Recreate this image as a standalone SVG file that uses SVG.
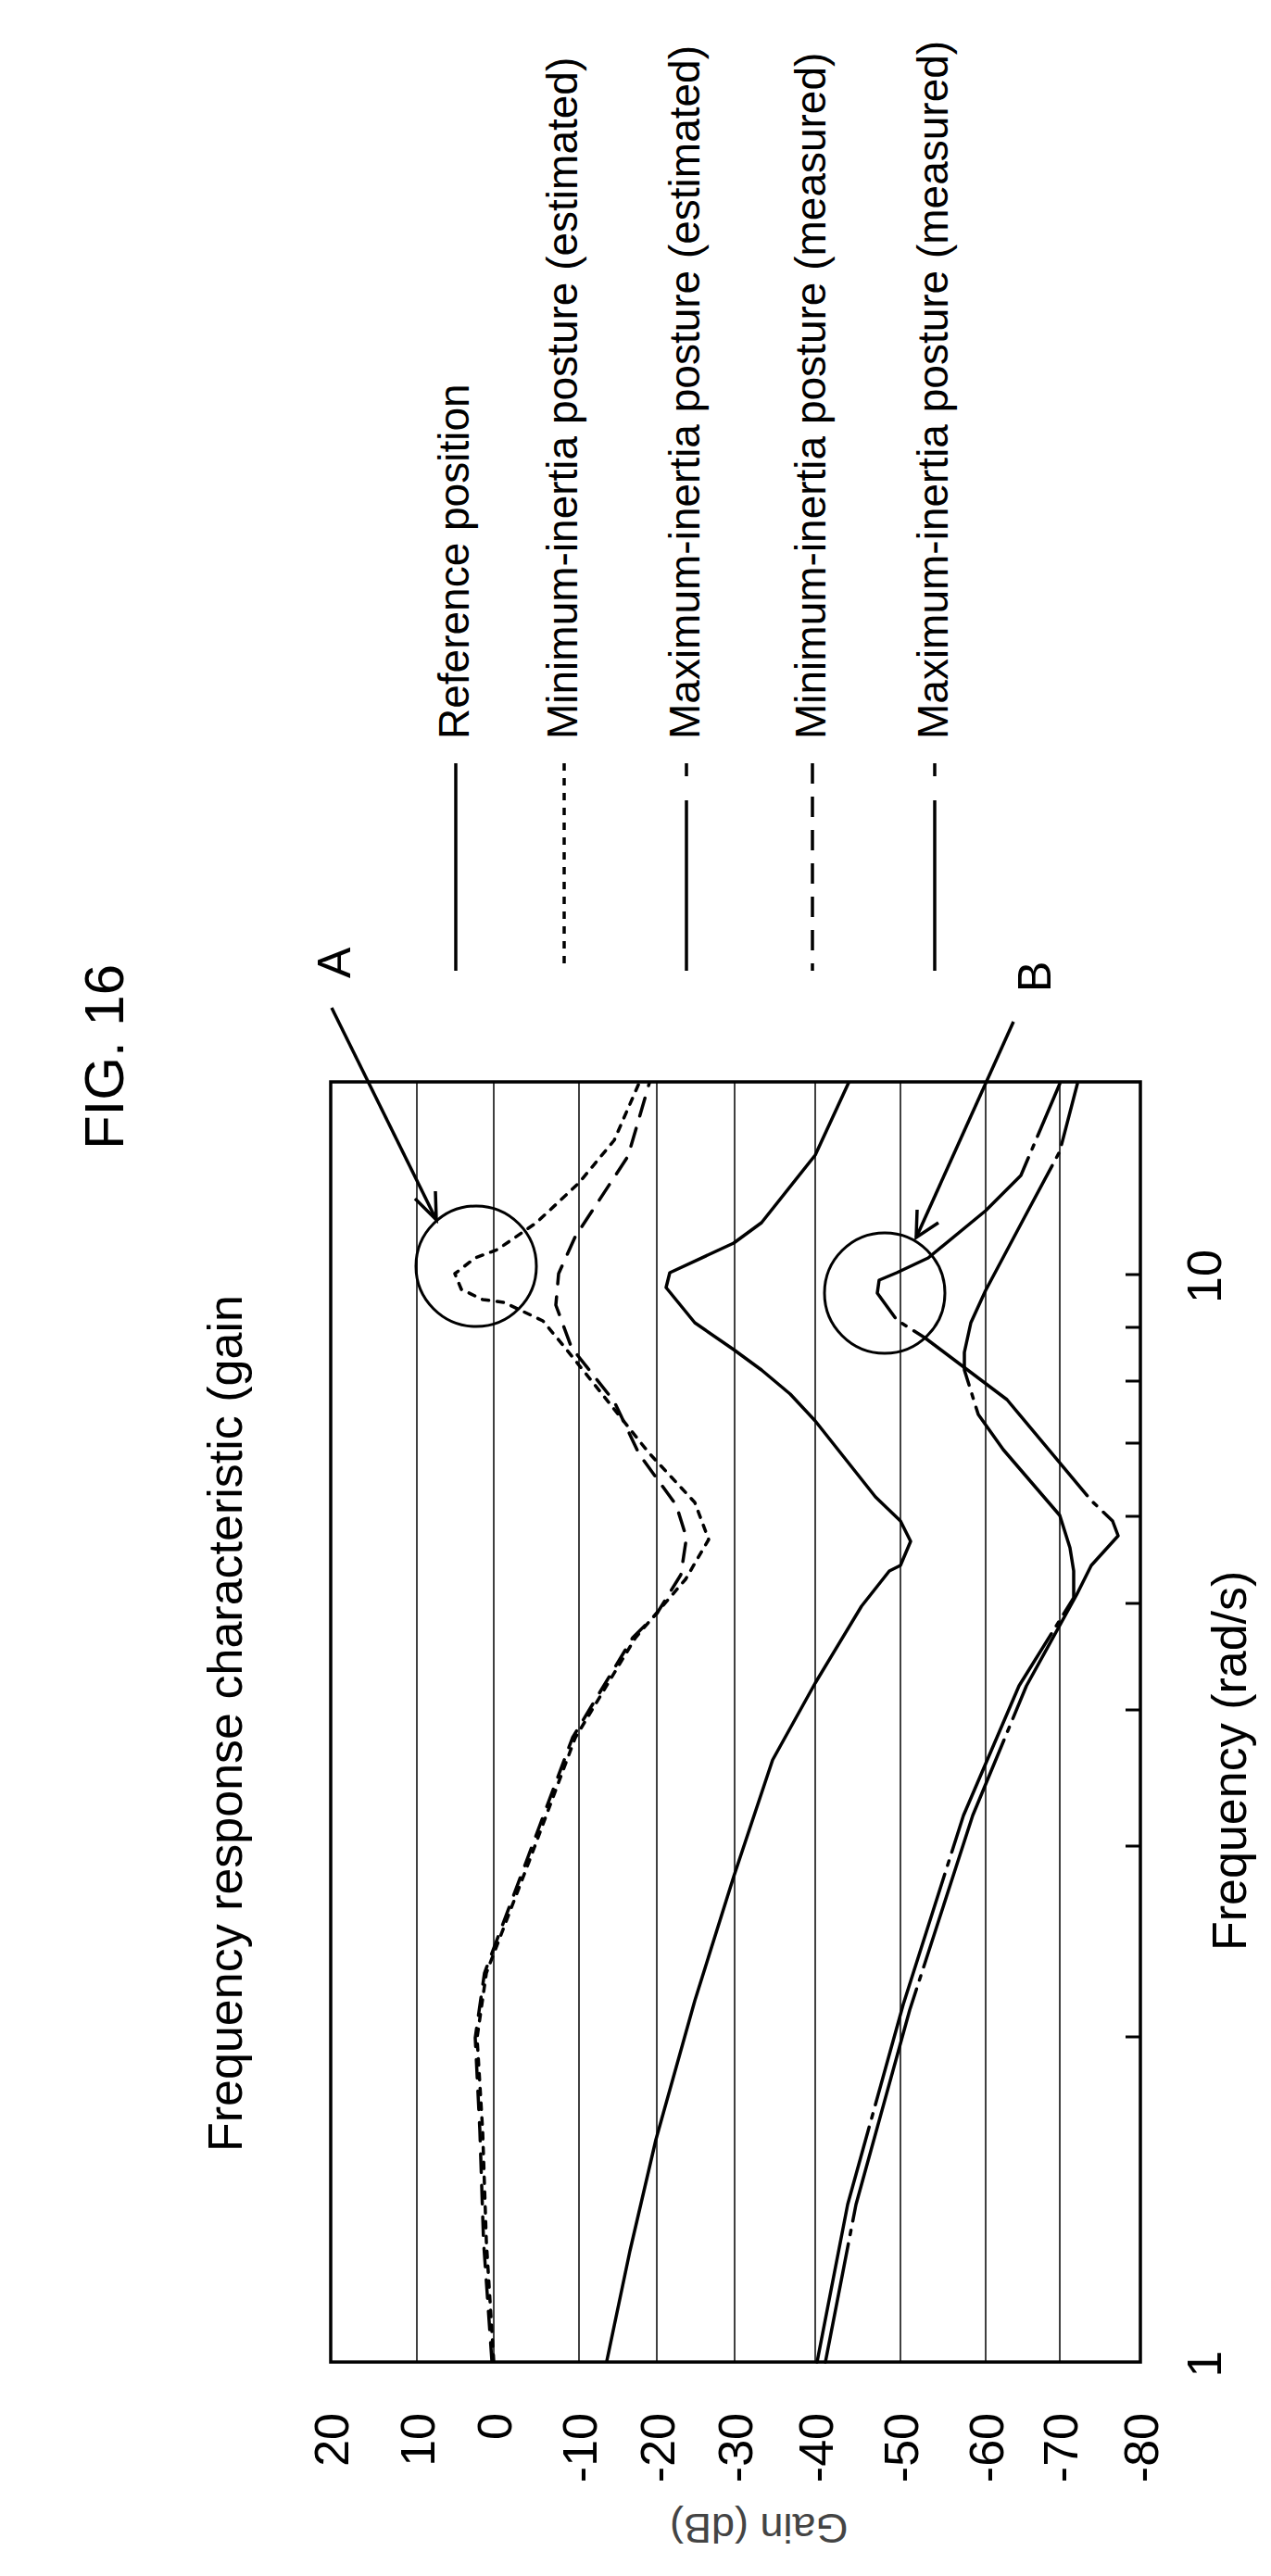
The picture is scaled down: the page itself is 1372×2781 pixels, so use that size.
<svg xmlns="http://www.w3.org/2000/svg" width="1372" height="2781" viewBox="0 0 1372 2781">
<style>
text{font-family:"Liberation Sans",Arial,sans-serif;fill:#000}
.grid{stroke:#000;stroke-width:1.5}
.c{fill:none;stroke:#000;stroke-width:3.5;stroke-linejoin:round;stroke-linecap:round}
.dot{stroke-dasharray:7 9}
.dash{stroke-dasharray:20 14}
.dd{stroke-dasharray:260 10 5 10}
</style>
<rect width="1372" height="2781" fill="#fff"/>
<g id="title">
<text transform="translate(133,1141) rotate(-90)" font-size="60" text-anchor="middle">FIG. 16</text>
<text transform="translate(261,2323) rotate(-90)" font-size="52">Frequency response characteristic (gain</text>
</g>
<g id="plot">
<g class="grid">
<line x1="450" y1="1168" x2="450" y2="2550"/><line x1="533" y1="1168" x2="533" y2="2550"/>
<line x1="625" y1="1168" x2="625" y2="2550"/><line x1="709" y1="1168" x2="709" y2="2550"/>
<line x1="793" y1="1168" x2="793" y2="2550"/><line x1="880" y1="1168" x2="880" y2="2550"/>
<line x1="972" y1="1168" x2="972" y2="2550"/><line x1="1064" y1="1168" x2="1064" y2="2550"/>
<line x1="1144" y1="1168" x2="1144" y2="2550"/>
</g>
<rect x="357" y="1168" width="874" height="1382" fill="none" stroke="#000" stroke-width="3.5"/>
<g stroke="#000" stroke-width="3">
<line x1="1215" y1="1376" x2="1231" y2="1376"/><line x1="1215" y1="1433" x2="1231" y2="1433"/>
<line x1="1215" y1="1491" x2="1231" y2="1491"/><line x1="1215" y1="1558" x2="1231" y2="1558"/>
<line x1="1215" y1="1637" x2="1231" y2="1637"/><line x1="1215" y1="1731" x2="1231" y2="1731"/>
<line x1="1215" y1="1846" x2="1231" y2="1846"/><line x1="1215" y1="1993" x2="1231" y2="1993"/>
<line x1="1215" y1="2199" x2="1231" y2="2199"/>
</g>
<g font-size="52" text-anchor="end">
<text transform="translate(376,2605) rotate(-90)">20</text>
<text transform="translate(469,2605) rotate(-90)">10</text>
<text transform="translate(552,2605) rotate(-90)">0</text>
<text transform="translate(644,2605) rotate(-90)">-10</text>
<text transform="translate(728,2605) rotate(-90)">-20</text>
<text transform="translate(812,2605) rotate(-90)">-30</text>
<text transform="translate(899,2605) rotate(-90)">-40</text>
<text transform="translate(991,2605) rotate(-90)">-50</text>
<text transform="translate(1083,2605) rotate(-90)">-60</text>
<text transform="translate(1163,2605) rotate(-90)">-70</text>
<text transform="translate(1250,2605) rotate(-90)">-80</text>
</g>
<text transform="translate(723,2714) rotate(180)" font-size="45" text-anchor="end" style="fill:#444">Gain (dB)</text>
<text transform="translate(1318,2552) rotate(-90)" font-size="52" text-anchor="middle">1</text>
<text transform="translate(1318,1378) rotate(-90)" font-size="52" text-anchor="middle">10</text>
<text transform="translate(1345,2106) rotate(-90)" font-size="52">Frequency (rad/s)</text>
</g>
<g id="curves">
<polyline class="c" points="655,2549 680,2430 708,2310 750,2160 792,2026 834,1900 880,1817 930,1734 960,1696 972,1690 983,1664 972,1642 945,1616 880,1534 853,1505 822,1479 792,1457 750,1428 719,1390 723,1374 792,1342 822,1320 880,1247 916,1169"/>
<polyline class="c dot" points="533,2549 525,2420 521,2300 515,2200 525,2130 571,2010 621,1876 686,1768 740,1705 765,1662 750,1622 700,1568 650,1505 610,1455 586,1426 544,1406 521,1403 498,1392 491,1375 513,1358 537,1349 579,1320 625,1277 663,1231 690,1169"/>
<polyline class="c dash" points="531,2549 522,2420 518,2300 513,2200 523,2130 568,2010 618,1876 683,1768 709,1742 735,1700 741,1660 730,1625 690,1570 663,1513 617,1455 600,1409 603,1375 621,1335 644,1300 678,1248 701,1169"/>
<polyline class="c dd" points="882,2550 915,2380 975,2164 1040,1960 1100,1820 1159,1725 1159,1696 1155,1671 1144,1636 1083,1565 1056,1527 1041,1479 1041,1460 1048,1428 1064,1393 1106,1314 1144,1243 1163,1170"/>
<polyline class="c dd" style="stroke-dashoffset:130" points="891,2550 924,2380 982,2170 1050,1960 1108,1820 1162,1722 1178,1690 1207,1658 1201,1642 1178,1620 1087,1511 998,1444 968,1425 947,1396 949,1382 968,1374 1002,1358 1064,1307 1102,1269 1144,1170"/>
</g>
<g id="markA">
<circle cx="514" cy="1367" r="65" fill="none" stroke="#000" stroke-width="3"/>
<line x1="358" y1="1088" x2="471" y2="1317" stroke="#000" stroke-width="3.5"/>
<polyline points="448,1294 471,1317 470,1286" fill="none" stroke="#000" stroke-width="3.5"/>
<text transform="translate(378,1056) rotate(-90)" font-size="50">A</text>
</g>
<g id="markB">
<circle cx="955" cy="1396" r="65" fill="none" stroke="#000" stroke-width="3"/>
<line x1="1094" y1="1103" x2="989" y2="1336" stroke="#000" stroke-width="3.5"/>
<polyline points="990,1306 989,1336 1013,1320" fill="none" stroke="#000" stroke-width="3.5"/>
<text transform="translate(1134,1071) rotate(-90)" font-size="50">B</text>
</g>
<g id="legend">
<line x1="492" y1="824" x2="492" y2="1048" stroke="#000" stroke-width="3.5"/>
<line x1="609" y1="824" x2="609" y2="1048" stroke="#000" stroke-width="3.5" stroke-dasharray="8 8"/>
<line x1="741" y1="864" x2="741" y2="1048" stroke="#000" stroke-width="3.5"/>
<line x1="741" y1="824" x2="741" y2="838" stroke="#000" stroke-width="3.5"/>
<line x1="877" y1="824" x2="877" y2="1048" stroke="#000" stroke-width="3.5" stroke-dasharray="22 14"/>
<line x1="1009" y1="864" x2="1009" y2="1048" stroke="#000" stroke-width="3.5"/>
<line x1="1009" y1="824" x2="1009" y2="838" stroke="#000" stroke-width="3.5"/>
<g font-size="46">
<text transform="translate(506,798) rotate(-90)">Reference position</text>
<text transform="translate(623,798) rotate(-90)">Minimum-inertia posture (estimated)</text>
<text transform="translate(755,798) rotate(-90)">Maximum-inertia posture (estimated)</text>
<text transform="translate(891,798) rotate(-90)">Minimum-inertia posture (measured)</text>
<text transform="translate(1023,798) rotate(-90)">Maximum-inertia posture (measured)</text>
</g>
</g>
</svg>
